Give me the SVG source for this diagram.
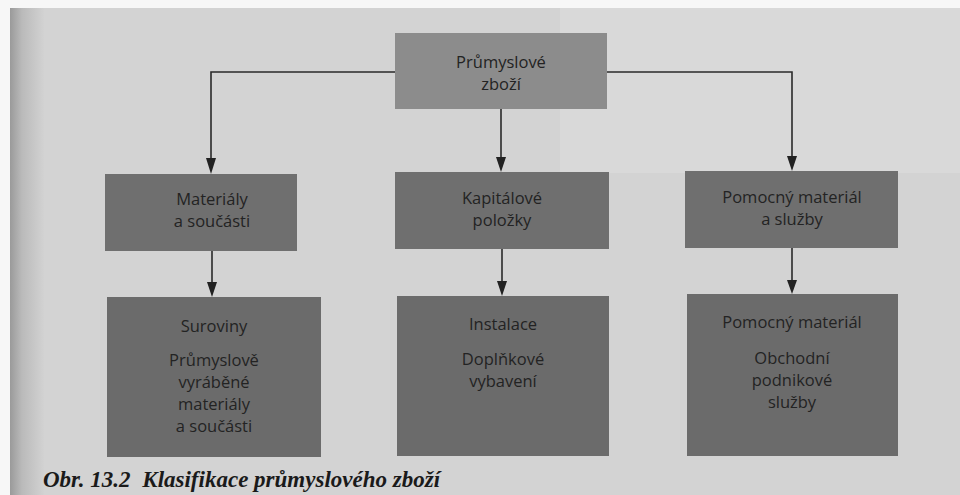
<svg xmlns="http://www.w3.org/2000/svg" width="960" height="495" viewBox="0 0 960 495">
<defs>
<linearGradient id="edge" x1="0" y1="0" x2="1" y2="0">
<stop offset="0" stop-color="#9a9a9a"/>
<stop offset="0.35" stop-color="#bababa"/>
<stop offset="1" stop-color="#d2d2d2"/>
</linearGradient>
<style>
.box1{fill:#8c8c8c;}
.box2{fill:#6f6f6f;}
.box3{fill:#6b6b6b;}
.t{font-family:"Open Sans","Noto Sans","DejaVu Sans",sans-serif;font-size:16.5px;fill:#232323;text-anchor:middle;}
.c{stroke:#2a2a2a;stroke-width:1.6;fill:none;}
.h{fill:#222;}
.cap{font-family:"Liberation Serif","Times New Roman",serif;font-style:italic;font-weight:bold;font-size:23px;fill:#1a1a1a;}
</style>
</defs>
<rect x="0" y="0" width="960" height="495" fill="#f7f7f7"/>
<rect x="10" y="8" width="950" height="487" fill="#d3d3d3"/>
<rect x="560" y="8" width="400" height="165" fill="#d9d9d9"/>
<rect x="10" y="8" width="34" height="487" fill="url(#edge)"/>

<g id="connectors">
<path class="c" d="M395,72 H211 V160"/>
<path class="c" d="M607,72 H792 V158"/>
<path class="c" d="M501,109 V160"/>
<path class="c" d="M212,251 V284"/>
<path class="c" d="M502,249 V283"/>
<path class="c" d="M792,248 V282"/>
<path class="h" d="M206,158 L216,158 L211,174 Z"/>
<path class="h" d="M787,156 L797,156 L792,171 Z"/>
<path class="h" d="M496,157 L506,157 L501,172 Z"/>
<path class="h" d="M207,282 L217,282 L212,297 Z"/>
<path class="h" d="M497,281 L507,281 L502,296 Z"/>
<path class="h" d="M787,280 L797,280 L792,294 Z"/>
</g>

<g id="n-top">
<rect class="box1" x="395" y="33" width="212" height="76"/>
<text class="t" x="501" y="68">Průmyslové</text>
<text class="t" x="501" y="90">zboží</text>
</g>

<g id="n-materialy">
<rect class="box2" x="105" y="174" width="192" height="77"/>
<text class="t" x="212" y="205">Materiály</text>
<text class="t" x="212" y="227">a součásti</text>
</g>

<g id="n-kapitalove">
<rect class="box2" x="395" y="172" width="214" height="77"/>
<text class="t" x="502" y="204">Kapitálové</text>
<text class="t" x="502" y="226">položky</text>
</g>

<g id="n-pomocny">
<rect class="box2" x="685" y="171" width="213" height="77"/>
<text class="t" x="792" y="203">Pomocný materiál</text>
<text class="t" x="792" y="225">a služby</text>
</g>

<g id="n-suroviny">
<rect class="box3" x="107" y="297" width="214" height="160"/>
<text class="t" x="214" y="332">Suroviny</text>
<text class="t" x="214" y="366">Průmyslově</text>
<text class="t" x="214" y="388">vyráběné</text>
<text class="t" x="214" y="410">materiály</text>
<text class="t" x="214" y="432">a součásti</text>
</g>

<g id="n-instalace">
<rect class="box3" x="397" y="296" width="212" height="160"/>
<text class="t" x="503" y="330">Instalace</text>
<text class="t" x="503" y="365">Doplňkové</text>
<text class="t" x="503" y="387">vybavení</text>
</g>

<g id="n-pomocny2">
<rect class="box3" x="687" y="294" width="211" height="162"/>
<text class="t" x="792" y="328">Pomocný materiál</text>
<text class="t" x="792" y="364">Obchodní</text>
<text class="t" x="792" y="386">podnikové</text>
<text class="t" x="792" y="408">služby</text>
</g>

<text class="cap" x="43" y="487">Obr. 13.2 <tspan dx="6">Klasifikace průmyslového zboží</tspan></text>
</svg>
